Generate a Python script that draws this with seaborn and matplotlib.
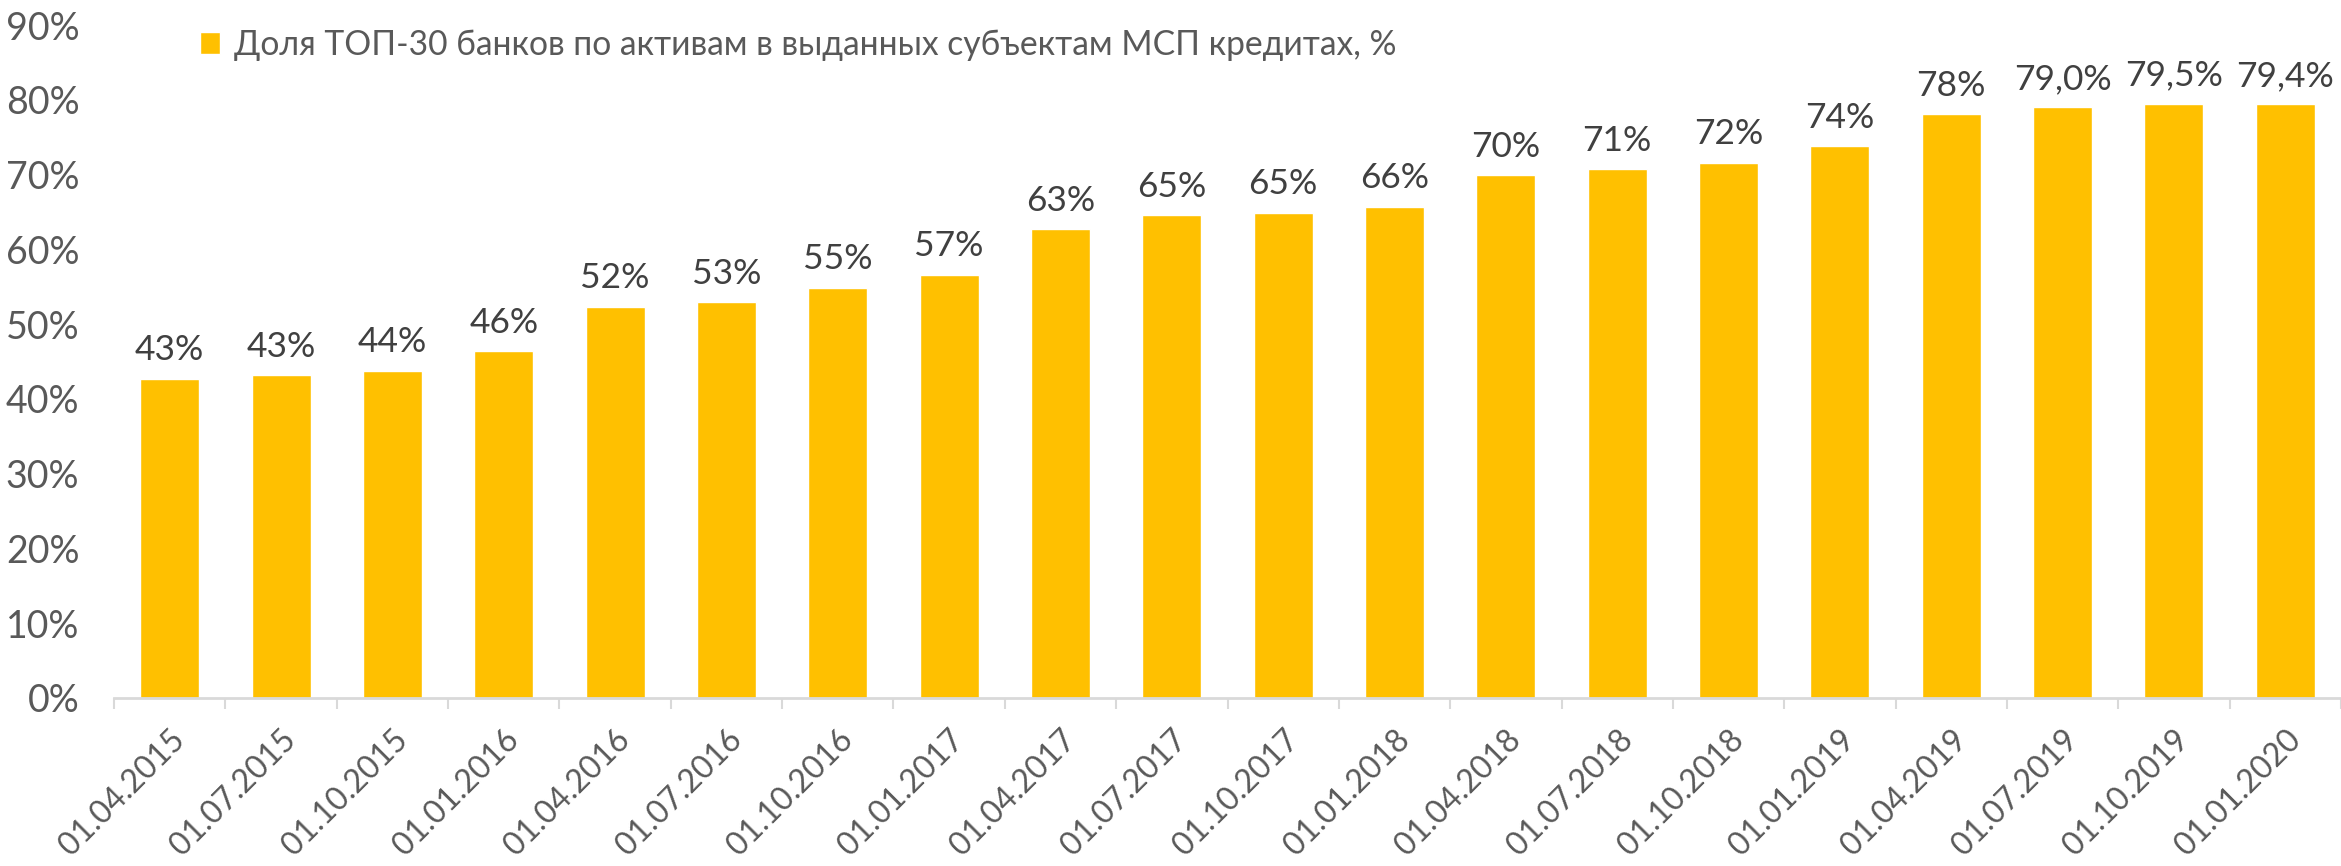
import pandas as pd
import seaborn as sns
import matplotlib.pyplot as plt
from matplotlib.ticker import PercentFormatter

dates = ['01.04.2015', '01.07.2015', '01.10.2015', '01.01.2016', '01.04.2016',
         '01.07.2016', '01.10.2016', '01.01.2017', '01.04.2017', '01.07.2017',
         '01.10.2017', '01.01.2018', '01.04.2018', '01.07.2018', '01.10.2018',
         '01.01.2019', '01.04.2019', '01.07.2019', '01.10.2019', '01.01.2020']
share = [42.7, 43.2, 43.8, 46.4, 52.3, 52.9, 54.9, 56.6, 62.7, 64.6,
         64.9, 65.7, 69.9, 70.7, 71.6, 73.8, 78.1, 79.0, 79.5, 79.4]
value_labels = ['43%', '43%', '44%', '46%', '52%', '53%', '55%', '57%', '63%', '65%',
                '65%', '66%', '70%', '71%', '72%', '74%', '78%', '79,0%', '79,5%', '79,4%']
legend_text = 'Доля ТОП-30 банков по активам в выданных субъектам МСП кредитах, %'

BAR = '#FFC000'
AXIS = '#D9D9D9'
TICK_TXT = '#595959'
LABEL_TXT = '#404040'

sns.set_theme(style='white')
plt.rcParams['font.family'] = ['Lato', 'Noto Sans', 'DejaVu Sans']

df = pd.DataFrame({'date': dates, 'share': share})

fig = plt.figure(figsize=(23.41, 8.66), dpi=100)
ax = fig.add_axes([114 / 2341, 0.194, 1 - 114 / 2341, 0.777])

sns.barplot(data=df, x='date', y='share', color=BAR, saturation=1, width=0.53,
            label=legend_text, ax=ax)

ax.bar_label(ax.containers[0], labels=value_labels, padding=9,
             fontsize=25.5, color=LABEL_TXT)

ax.set_ylim(0, 90)
ax.set_xlim(-0.5, len(dates) - 0.5)
ax.set_yticks(range(0, 91, 10))
ax.yaxis.set_major_formatter(PercentFormatter(decimals=0))
ax.set_xlabel('')
ax.set_ylabel('')

for s in ['top', 'right', 'left']:
    ax.spines[s].set_visible(False)
ax.spines['bottom'].set_color(AXIS)
ax.spines['bottom'].set_linewidth(2)

ax.tick_params(axis='y', length=0, pad=25, labelsize=27, labelcolor=TICK_TXT)
ax.tick_params(axis='x', which='major', length=0, pad=19, labelsize=23,
               labelcolor=TICK_TXT)
ax.set_xticks([i - 0.5 for i in range(len(dates) + 1)], minor=True)
ax.tick_params(axis='x', which='minor', length=8, width=1.5, color=AXIS,
               direction='out', bottom=True)
plt.setp(ax.get_xticklabels(), rotation=45, ha='right', rotation_mode='anchor')

leg = ax.legend(loc='center left', bbox_to_anchor=(200 / 2341, 1 - 45 / 866),
                bbox_transform=fig.transFigure, frameon=False, fontsize=24.2,
                handlelength=0.6, handleheight=0.6, handletextpad=0.4,
                borderaxespad=0, borderpad=0)
for t in leg.get_texts():
    t.set_color(TICK_TXT)

fig.savefig('out.png', dpi=100)
